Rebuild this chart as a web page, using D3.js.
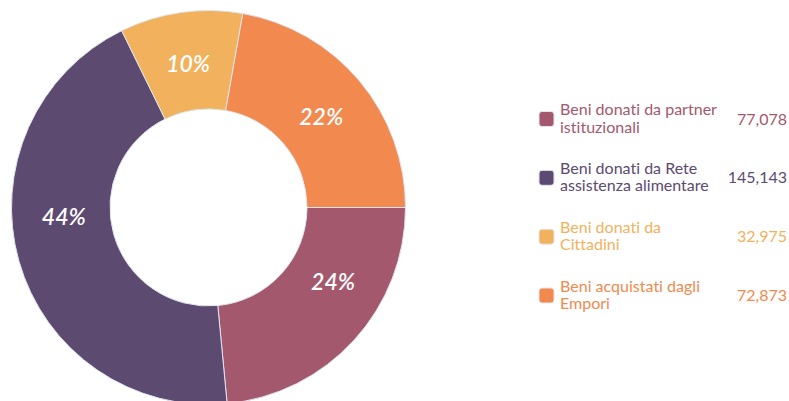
<!DOCTYPE html>
<html>
<head>
<meta charset="utf-8">
<script src="https://cdn.jsdelivr.net/npm/d3@7"></script>
<style>
  html, body { margin: 0; padding: 0; background: #fff; }
  svg, svg text, svg tspan {
    font-family: Lato, "Open Sans", sans-serif;
    font-variant-ligatures: none;
    font-feature-settings: "liga" 0, "clig" 0, "dlig" 0, "calt" 0;
  }
  svg { display: block; }
  .legend-text { letter-spacing: 0.01px; }
</style>
</head>
<body>
<svg id="chart" width="789" height="401"></svg>
<script>
// Origin of goods (quantities)
const categories = [
  ["Beni donati da partner", "istituzionali"],
  ["Beni donati da Rete", "assistenza alimentare"],
  ["Beni donati da", "Cittadini"],
  ["Beni acquistati dagli", "Empori"]
];
const values = [77078, 145143, 32975, 72873];
const colors = ["#a4586d", "#5c4a71", "#f2b15c", "#f2894e"];

// Angular nudge (degrees) for each percentage label, keeps labels clear of the hole
const labelNudge = [-11.5, 12, 0, 1];

const svg = d3.select("#chart");
const cx = 208.5, cy = 207.5;
const outerR = 197, innerR = 98.5, labelR = 145;

const total = d3.sum(values);

// Whole percentages that add up to 100 (largest remainder)
const raw = values.map(v => v / total * 100);
const pct = raw.map(Math.floor);
const left = 100 - d3.sum(pct);
raw.map((r, i) => [r - Math.floor(r), i])
   .sort((a, b) => b[0] - a[0])
   .slice(0, left)
   .forEach(([, i]) => pct[i] += 1);

const pie = d3.pie().sort(null).value(d => d)
  .startAngle(Math.PI / 2).endAngle(Math.PI / 2 + 2 * Math.PI);
const arcs = pie(values);
const arc = d3.arc().innerRadius(innerR).outerRadius(outerR);

const g = svg.append("g").attr("transform", `translate(${cx},${cy})`);

g.selectAll("path.slice")
  .data(arcs)
  .join("path")
  .attr("class", "slice")
  .attr("d", arc)
  .attr("fill", (d, i) => colors[i])
  .attr("stroke", "#dfe5ee")
  .attr("stroke-width", 1);

const mid = (d, i) => (d.startAngle + d.endAngle) / 2 + labelNudge[i] * Math.PI / 180;

g.selectAll("text.pct")
  .data(arcs)
  .join("text")
  .attr("class", "pct")
  .attr("x", (d, i) => labelR * Math.sin(mid(d, i)))
  .attr("y", (d, i) => -labelR * Math.cos(mid(d, i)))
  .attr("dy", "0.36em")
  .attr("text-anchor", "middle")
  .attr("fill", "#fff")
  .attr("font-size", 23)
  .attr("font-weight", 600)
  .attr("font-style", "italic")
  .text((d, i) => pct[i] + "%");

// Legend
const fmt = d3.format(",");
const legendY = d3.scalePoint().domain(d3.range(values.length)).range([119, 295.5]);
const item = svg.append("g").selectAll("g.item")
  .data(values)
  .join("g")
  .attr("class", "item")
  .attr("transform", (d, i) => `translate(0,${legendY(i)})`);

item.append("rect")
  .attr("x", 539).attr("y", -7.5)
  .attr("width", 15).attr("height", 15)
  .attr("rx", 3)
  .attr("fill", (d, i) => colors[i])
  .attr("stroke", "#e3e6ec")
  .attr("stroke-width", 1);

item.append("text")
  .attr("class", "legend-text")
  .attr("fill", (d, i) => colors[i])
  .attr("font-size", 16)
  .selectAll("tspan")
  .data((d, i) => categories[i])
  .join("tspan")
  .attr("x", 560)
  .attr("y", (t, j) => j === 0 ? -4 : 13.5)
  .text(t => t);

item.append("text")
  .attr("x", 787)
  .attr("y", 5.5)
  .attr("text-anchor", "end")
  .attr("fill", (d, i) => colors[i])
  .attr("font-size", 16)
  .text(d => fmt(d));
</script>
</body>
</html>
